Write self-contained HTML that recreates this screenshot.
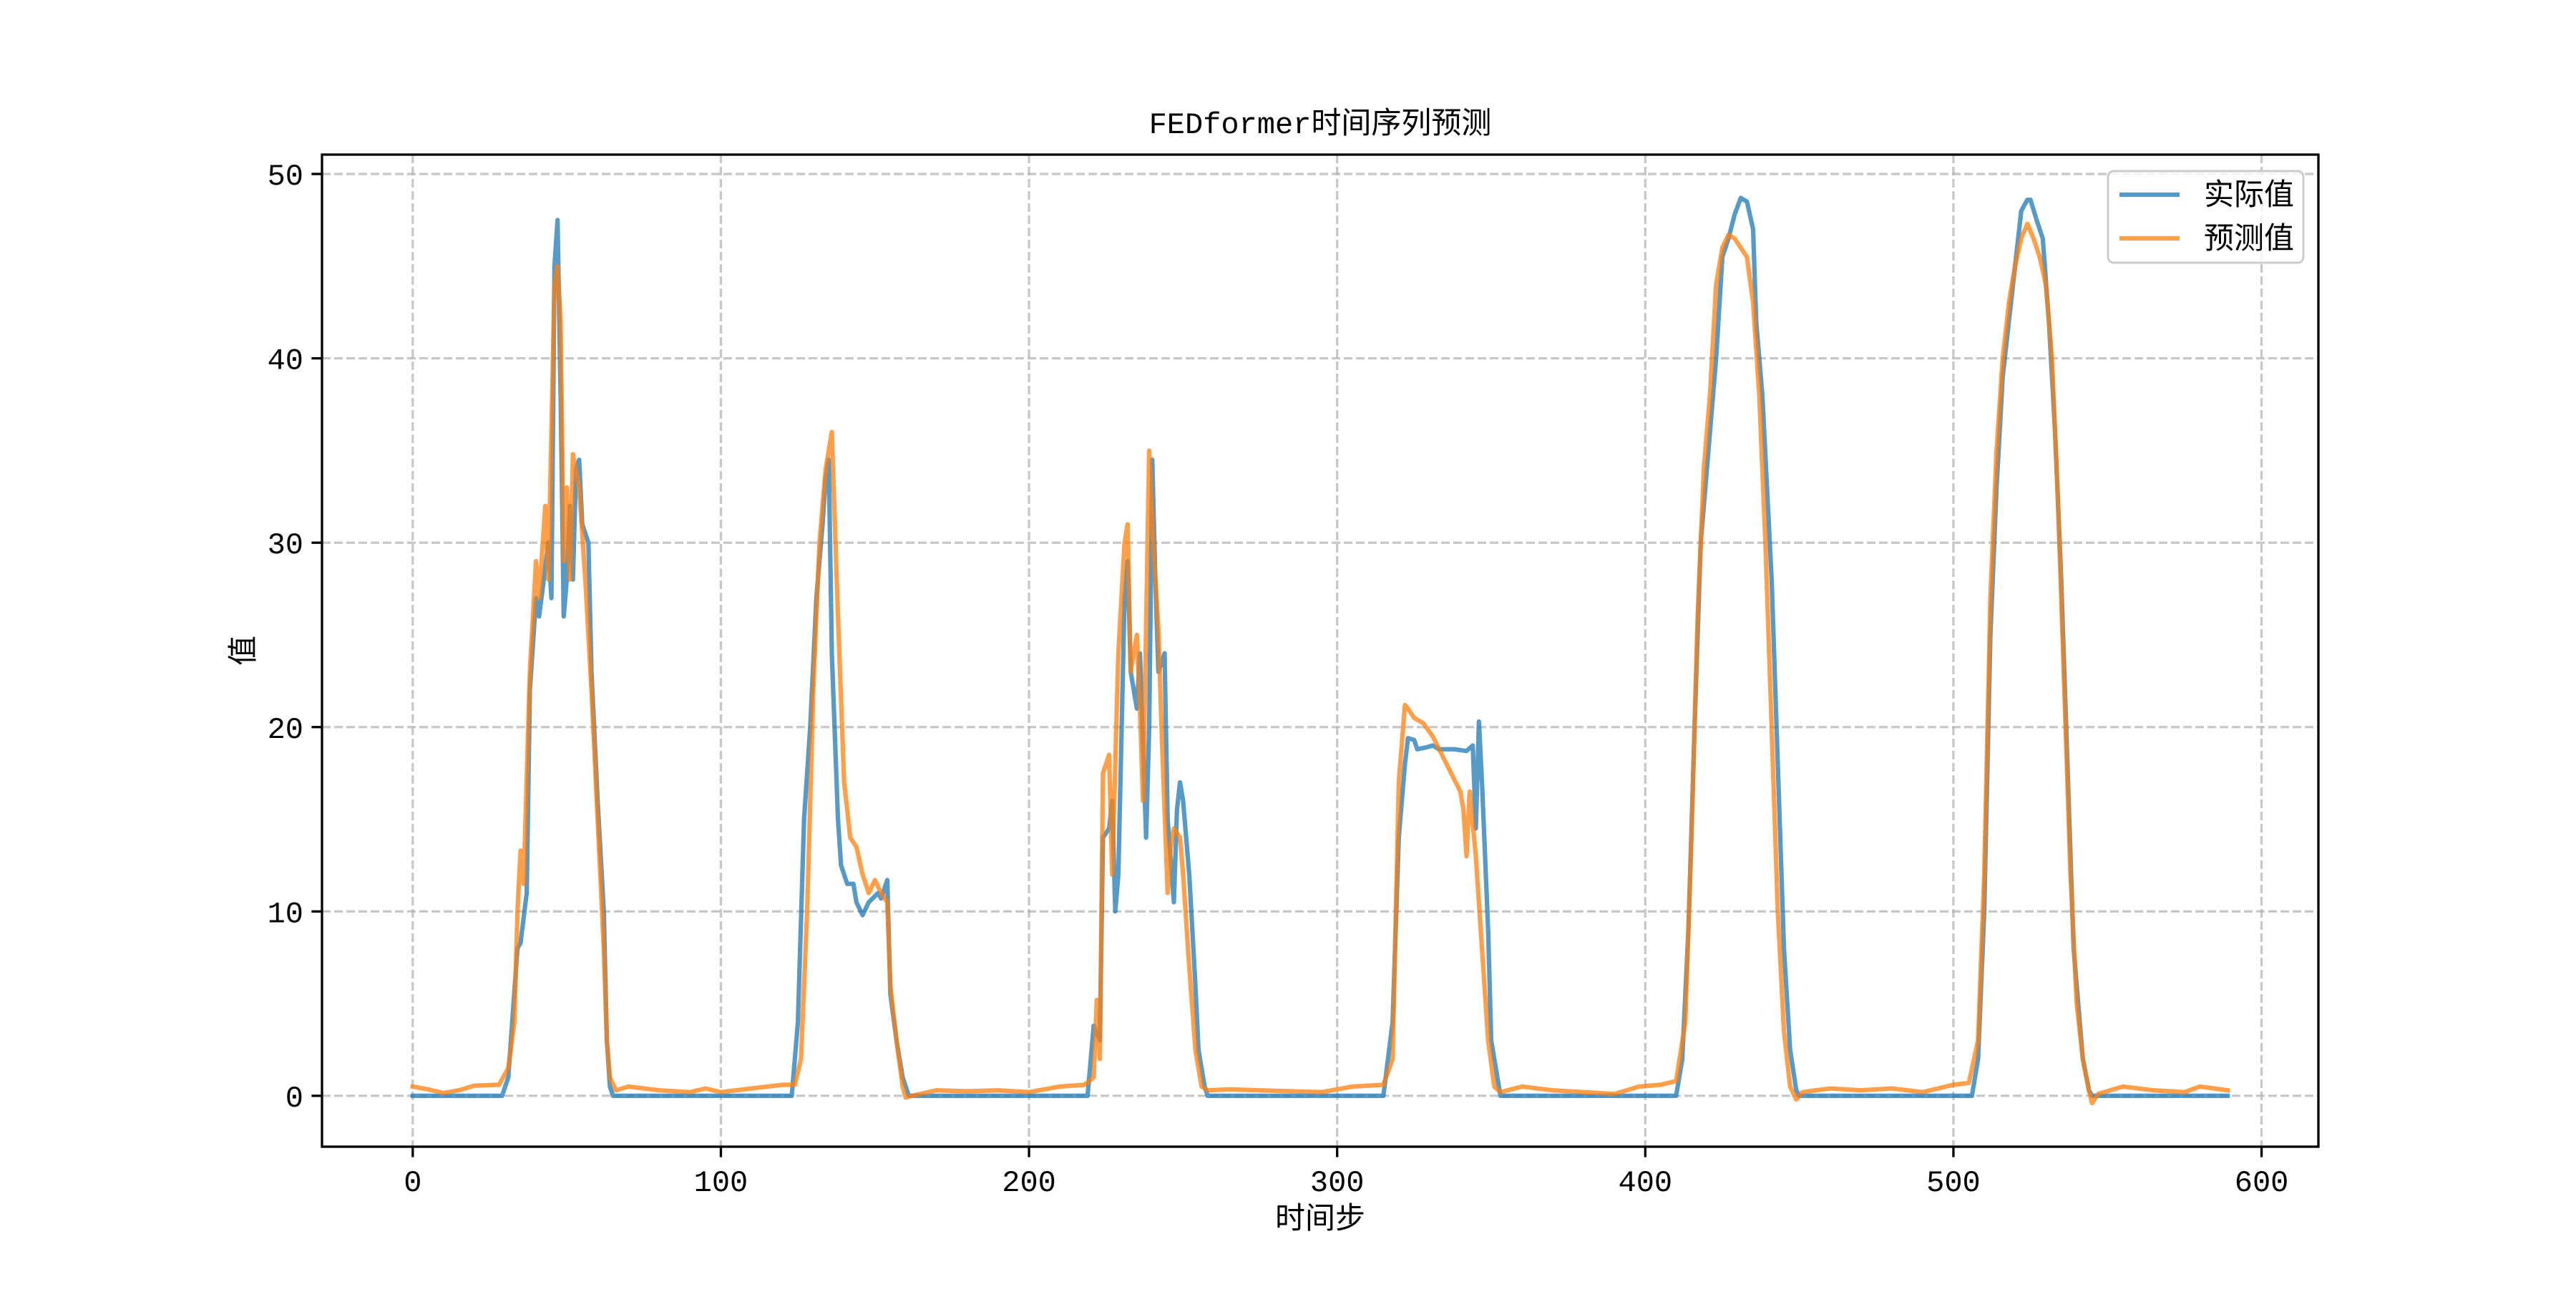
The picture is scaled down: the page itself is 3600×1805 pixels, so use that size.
<!DOCTYPE html>
<html><head><meta charset="utf-8"><style>
html,body{margin:0;padding:0;background:#fff;}
svg text{font-family:"Liberation Mono","Noto Sans CJK SC",monospace;}
</style></head><body>
<svg id="chart" xmlns="http://www.w3.org/2000/svg" width="3600" height="1800" viewBox="0 0 3600 1800">
<rect width="3600" height="1800" fill="#fff"/>
<g id="grid"></g>
<g id="series"></g>
<rect x="450" y="216" width="2790" height="1386" fill="none" stroke="#000" stroke-width="3.3"/>
<g id="xticks"></g>
<g id="yticks"></g>
<text x="1845" y="186" font-size="42" text-anchor="middle">FEDformer时间序列预测</text>
<text x="1845" y="1716" font-size="42" text-anchor="middle">时间步</text>
<text transform="translate(354,909) rotate(-90)" font-size="42" text-anchor="middle">值</text>
<g>
<rect x="2946" y="239" width="273" height="128" rx="8" fill="#fff" fill-opacity="0.8" stroke="#ccc" stroke-width="3"/>
<line x1="2962" y1="272" x2="3046" y2="272" stroke="#1f77b4" stroke-opacity="0.75" stroke-width="6.25"/>
<text x="3080" y="286" font-size="42">实际值</text>
<line x1="2962" y1="333" x2="3046" y2="333" stroke="#ff7f0e" stroke-opacity="0.75" stroke-width="6.25"/>
<text x="3080" y="347" font-size="42">预测值</text>
</g>
</svg>
<script>
const xTicks=[0,100,200,300,400,500,600];
const yTicks=[0,10,20,30,40,50];
const actualSteps=[0,29,31,34,35,37,38,40,41,44,45,46,47,48,49,50,51,52,53,54,55,57,58,60,62,63,64,65,
123,125,127,129,131,133,134,135,136,138,139,141,143,144,146,148,151,152,154,155,157,159,161,
219,221,223,224,226,227,228,229,231,232,233,235,236,238,239,240,241,242,244,245,247,248,249,250,252,254,255,257,258,
315,318,320,322,323,325,326,329,331,333,338,342,344,345,346,347,349,350,352,353,
410,412,414,416,418,420,423,425,427,429,431,433,435,436,438,441,443,445,447,449,450,
506,508,510,512,514,516,518,520,522,524,525,527,529,531,533,535,537,539,542,544,545,589];
const actualValues=[0,0,1,8,8.3,11,22,27,26,30,27,45,47.5,38,26,28,32,28,34,34.5,31,30,23,16,10,3,0.5,0,
0,4,15,20,27,31,33.5,34.5,24,15,12.5,11.5,11.5,10.5,9.8,10.5,11,10.7,11.7,5.5,3,1,0,
0,3.8,3,14,14.5,16,10,12,27,29,23,21,24,14,20,34.5,28,23,24,15,10.5,15.5,17,16,12,6,2.5,0.5,0,
0,4,14,18,19.4,19.3,18.8,18.9,19,18.8,18.8,18.7,19,14.5,20.3,17,9,3,1,0,
0,2,9,20,30,34,40,45.5,46.5,47.8,48.7,48.5,47,42,38,28,18,8,2.5,0.3,0,
0,2,10,25,33,39,42,45,48,48.6,48.6,47.5,46.5,42,36,28,18,8,2,0.3,0,0];
const predSteps=[0,5,10,15,20,28,31,33,34,35,36,38,40,41,43,44,46,47,48,49,50,51,52,54,56,58,60,62,63,64,66,
70,80,90,95,100,110,120,124,126,128,130,132,134,136,138,140,142,144,146,148,150,152,154,155,157,159,160,162,
170,180,190,200,210,218,221,222,223,224,226,227,229,231,232,233,235,236,237,239,240,242,243,245,246,247,249,250,252,254,256,258,
265,275,285,295,305,315,318,320,322,323,325,328,331,334,337,340,341,342,343,345,347,349,351,353,
360,370,380,390,398,405,410,413,415,417,419,421,423,425,427,429,431,433,435,437,439,441,443,445,447,449,451,
460,470,480,490,500,505,508,510,512,514,516,518,520,522,524,526,528,530,532,534,536,538,540,542,544,545,547,
555,565,575,580,589];
const predValues=[0.5,0.35,0.15,0.3,0.55,0.6,1.5,4,10,13.3,11.5,23,29,27,32,28,44,45,42,29,33,28,34.8,33,28,22,15,8,3,1,0.3,
0.5,0.3,0.2,0.4,0.2,0.4,0.6,0.6,2,10,22,30,34,36,26,17,14,13.5,12,11,11.7,11,10.5,6,3,0.5,-0.1,0,
0.3,0.25,0.3,0.2,0.5,0.6,1,5.2,2,17.5,18.5,12,24,30,31,23,25,21,16,35,31,25.3,20,11,13.5,14.5,14,12,7,2.5,0.5,0.3,
0.35,0.3,0.25,0.2,0.5,0.6,2,17,21.2,21,20.5,20.2,19.5,18.5,17.5,16.5,15.5,13,16.5,13,8,3,0.5,0.2,
0.5,0.3,0.2,0.1,0.5,0.6,0.8,4,14,26,34,38,44,46,46.7,46.5,46,45.5,43,38,30,20,10,3.5,0.5,-0.2,0.2,
0.4,0.3,0.4,0.2,0.6,0.7,3,12,27,35,40,43,45,46.5,47.3,46.5,45.5,44,40,32,22,12,5,2,0.3,-0.4,0.1,
0.5,0.3,0.2,0.5,0.3];

const L=450,R=3240,T=216,B=1602,XMIN=-29.45,XMAX=618.45,YMIN=-2.76,YMAX=51.05;
const xs=v=>L+(v-XMIN)/(XMAX-XMIN)*(R-L);
const ys=v=>B-(v-YMIN)/(YMAX-YMIN)*(B-T);
const NS="http://www.w3.org/2000/svg";
function mk(tag,attrs,parent){const e=document.createElementNS(NS,tag);for(const k in attrs)e.setAttribute(k,attrs[k]);parent.appendChild(e);return e;}
const grid=document.getElementById('grid'),xg=document.getElementById('xticks'),yg=document.getElementById('yticks'),sg=document.getElementById('series');
xTicks.forEach(t=>{
  const g=mk('line',{x1:xs(t),x2:xs(t),y1:T,y2:B,stroke:'#b0b0b0','stroke-opacity':0.7,'stroke-width':3.3,'stroke-dasharray':'12,5'},grid);
  
  
  const tk=mk('line',{x1:xs(t),x2:xs(t),y1:B,y2:B+14.6,stroke:'#000','stroke-width':3.3},xg);
  
  
  const tx=mk('text',{x:xs(t),y:B+62,'font-size':42,'text-anchor':'middle'},xg);
  tx.textContent=t;
  
  
});
yTicks.forEach(t=>{
  const g=mk('line',{x1:L,x2:R,y1:ys(t),y2:ys(t),stroke:'#b0b0b0','stroke-opacity':0.7,'stroke-width':3.3,'stroke-dasharray':'12,5'},grid);
  
  
  const tk=mk('line',{x1:L-14.6,x2:L,y1:ys(t),y2:ys(t),stroke:'#000','stroke-width':3.3},yg);
  
  
  const tx=mk('text',{x:L-26,y:ys(t)+15,'font-size':42,'text-anchor':'end'},yg);
  tx.textContent=t;
  
  
});
function line(steps,vals,color,name){
  const d=steps.map((s,i)=>(i?'L':'M')+xs(s).toFixed(1)+','+ys(vals[i]).toFixed(1)).join('');
  const p=mk('path',{d:d,fill:'none',stroke:color,'stroke-opacity':0.75,'stroke-width':6.25,'stroke-linejoin':'round','stroke-linecap':'square'},sg);
  
  
}
line(actualSteps,actualValues,'#1f77b4','actual-line');
line(predSteps,predValues,'#ff7f0e','predicted-line');
</script>
</body></html>
